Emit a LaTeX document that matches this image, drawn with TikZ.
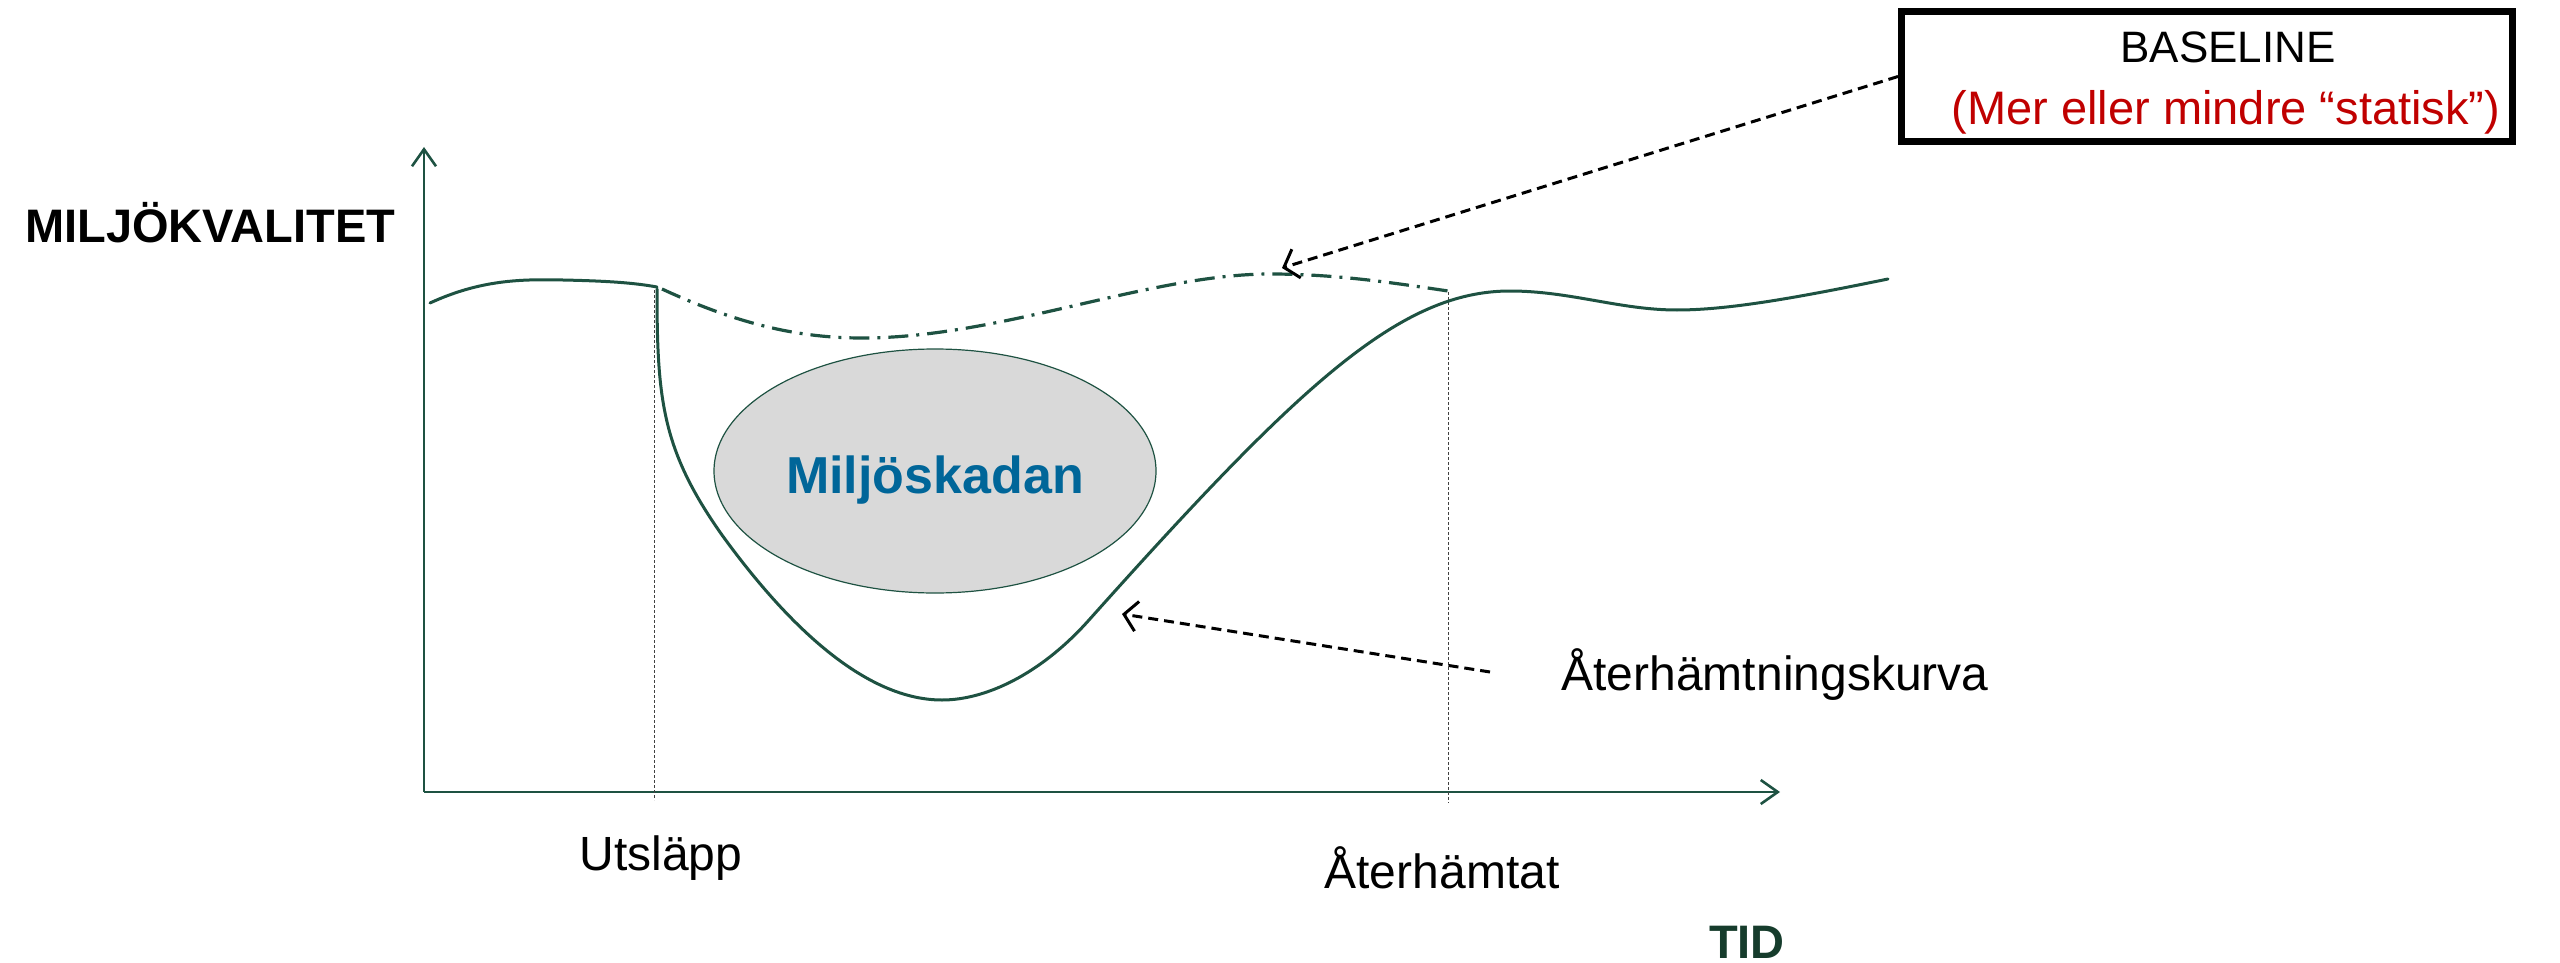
\documentclass[tikz,border=0pt]{standalone}
\usepackage{fontspec}
\setmainfont{Liberation Sans}
\usetikzlibrary{arrows.meta,shapes.geometric}

\definecolor{curvegreen}{RGB}{30,82,66}
\definecolor{tidgreen}{RGB}{22,60,44}
\definecolor{damageblue}{RGB}{0,102,153}
\definecolor{notered}{RGB}{192,0,0}
\definecolor{damagefill}{RGB}{217,217,217}

\begin{document}
\begin{tikzpicture}[x=1pt,y=-1pt,
  lbl/.style={inner sep=0pt, anchor=base, font=\fontsize{48}{56}\selectfont},
  axisline/.style={draw=curvegreen, line width=2.6pt,
    -{Straight Barb[length=17pt,width=24pt]}},
  curve/.style={draw=curvegreen, line width=3pt, line cap=round},
  baselinecurve/.style={draw=curvegreen, line width=3.2pt,
    dash pattern=on 20pt off 8pt on 3pt off 8pt},
  guide/.style={draw=black!75, line width=1pt, dash pattern=on 3pt off 2pt},
  pointer/.style={draw=black, line width=3pt, dash pattern=on 10pt off 6pt,
    -{Straight Barb[length=13pt,width=30pt]}},
]
\useasboundingbox (0,0) rectangle (2560,963);

% axes
\coordinate (O) at (424,792);
\coordinate (ytop) at (424,147);
\coordinate (xend) at (1780,792);
\draw[axisline] (O) -- (ytop);
\draw[axisline] (O) -- (xend);

% guide lines for the two moments in time
\coordinate (utop) at (654,290);
\coordinate (ubot) at (654,800);
\coordinate (atop) at (1448,292);
\coordinate (abot) at (1448,803);
\draw[guide] (utop) -- (ubot);
\draw[guide] (atop) -- (abot);

% damage area
\node[ellipse, draw=curvegreen, line width=1.2pt, fill=damagefill,
      minimum width=442pt, minimum height=244pt, inner sep=0pt] (skada) at (935,471) {};
\node[lbl, font=\fontsize{52}{60}\selectfont\bfseries, text=damageblue] (skadatext) at (935,493) {Miljöskadan};

% quality before the release
\draw[curve] (430,303) .. controls (480,280) and (520,279) .. (563,280)
                       .. controls (610,281) and (635,283) .. (657,287);

% drop and recovery curve
\draw[curve] (657,289) .. controls (657,400) and (662,450) .. (722,535)
                       .. controls (780,615) and (860,700) .. (942,700)
                       .. controls (985,700) and (1040,675) .. (1089,620)
                       .. controls (1300,384) and (1400,291) .. (1510,291)
                       .. controls (1570,291) and (1620,310) .. (1677,310)
                       .. controls (1730,310) and (1800,297) .. (1888,279);

% baseline without the release
\draw[baselinecurve] (662,289) .. controls (740,325) and (800,338) .. (862,338)
                               .. controls (1000,338) and (1150,274) .. (1270,274)
                               .. controls (1340,274) and (1400,284) .. (1455,292);

% labels
\node[lbl, anchor=base west, font=\fontsize{47}{56}\selectfont\bfseries] (ylabel) at (25,242) {MILJÖKVALITET};
\node[lbl] (utslapp) at (661,870) {Utsläpp};
\node[lbl] (aterhamtat) at (1442,888) {Återhämtat};
\node[lbl, font=\fontsize{47}{56}\selectfont\bfseries, text=tidgreen] (tid) at (1747,958) {TID};
\node[lbl] (kurva) at (1775,690) {Återhämtningskurva};

% baseline box
\node[draw=black, line width=7pt, minimum width=611pt, minimum height=130pt,
      inner sep=0pt] (box) at (2207,76.5) {};
\node[lbl, font=\fontsize{44}{52}\selectfont] (boxtitle) at (2228,63) {BASELINE};
\node[lbl, font=\fontsize{47}{54}\selectfont, text=notered] (boxnote) at (2226,125) {(Mer eller mindre “statisk”)};

% pointers
\coordinate (basetip) at (1282,268);
\draw[pointer] (box.west) -- (basetip);
\coordinate (kurvatail) at (1490,672);
\coordinate (kurvatip) at (1122,614);
\draw[pointer] (kurvatail) -- (kurvatip);
\end{tikzpicture}
\end{document}
